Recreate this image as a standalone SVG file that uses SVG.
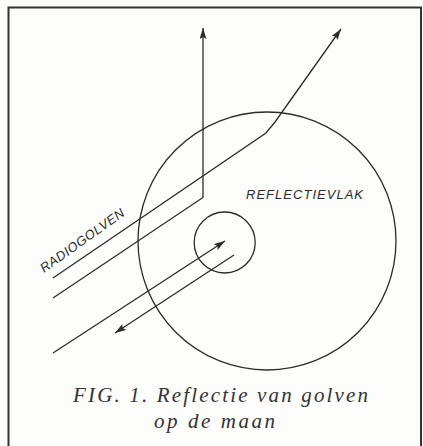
<svg xmlns="http://www.w3.org/2000/svg" width="423" height="446" viewBox="0 0 423 446">
<style>
.ln{fill:none;stroke:#2b2b2b;stroke-width:1.3}
.lbl{font-family:"Liberation Sans",Arial,sans-serif;font-style:italic;fill:#2b2b2b}
.cap{font-family:"Liberation Serif","Times New Roman",serif;font-style:italic;fill:#333;font-size:21px}
</style>
<defs>
<marker id="ah" markerUnits="userSpaceOnUse" markerWidth="12" markerHeight="8" refX="11" refY="3.5" orient="auto">
<path d="M0,0 L11,3.5 L0,7 L2,3.5 z" fill="#2b2b2b"/>
</marker>
</defs>
<rect width="423" height="446" fill="#fdfdfb"/>
<path d="M8.5,446 V7.5 H421 V446" fill="none" stroke="#333" stroke-width="2"/>
<g id="moon">
<circle cx="267" cy="241" r="129" class="ln"/>
</g>
<g id="reflector">
<circle cx="224.7" cy="242.5" r="30.5" class="ln"/>
</g>
<g id="connectors">
<polyline class="ln" points="53,298 203,197.5 203,28" marker-end="url(#ah)"/>
<polyline class="ln" points="53,278 266,133 275,122 341,29" marker-end="url(#ah)"/>
<line class="ln" x1="53" y1="353" x2="225" y2="241" marker-end="url(#ah)"/>
<line class="ln" x1="234" y1="255" x2="115" y2="333" marker-end="url(#ah)"/>
</g>
<g id="labels">
<text class="lbl" font-size="13" x="44" y="273" textLength="100" lengthAdjust="spacing" transform="rotate(-35.5 44 273)">RADIOGOLVEN</text>
<text class="lbl" font-size="13" x="246" y="199" textLength="117" lengthAdjust="spacing">REFLECTIEVLAK</text>
</g>
<g id="caption">
<text class="cap" x="73" y="402" textLength="295" lengthAdjust="spacing">FIG. 1. Reflectie van golven</text>
<text class="cap" x="154" y="428" textLength="121" lengthAdjust="spacing">op de maan</text>
</g>
</svg>
